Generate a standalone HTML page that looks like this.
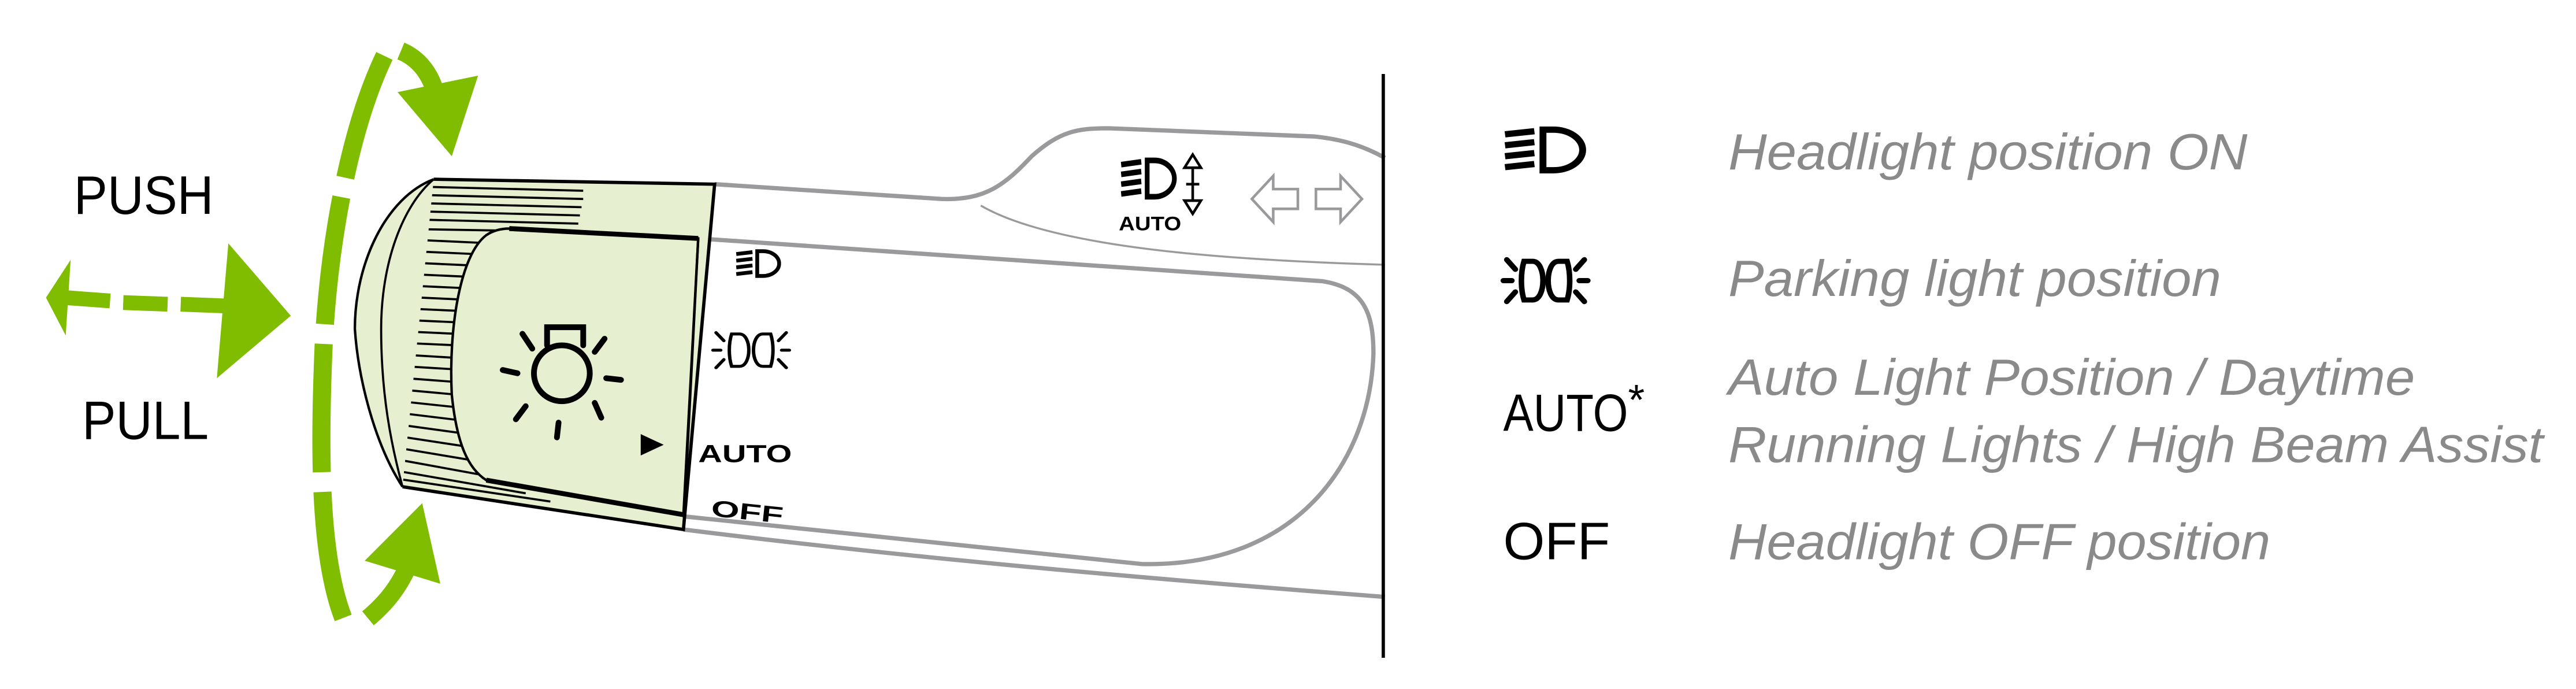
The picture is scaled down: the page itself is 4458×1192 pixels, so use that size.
<!DOCTYPE html>
<html><head><meta charset="utf-8"><style>
html,body{margin:0;padding:0;background:#fff;}
svg{display:block}
</style></head><body>
<svg width="4458" height="1192" viewBox="0 0 1568 419" preserveAspectRatio="none" xmlns="http://www.w3.org/2000/svg">
<defs>
<clipPath id="knob"><path d="M264,109 L435,112 L416,322 L245,296 C228,270 218,230 216,200 C216,160 235,120 264,109 Z"/></clipPath>
<g id="hl">
  <path d="M24,3 L30,3 A17,13 0 0 1 30,29 L24,29 Z" fill="none" stroke="#000" stroke-width="4"/>
  <path d="M2,6 L19,4 M2,13 L19,11 M2,20 L19,18 M2,27 L19,25" stroke="#000" stroke-width="4"/>
</g>
<g id="pk" fill="none" stroke="#000" stroke-width="3.2" stroke-linecap="round">
  <path d="M13,5 L18,5 C26,5 26,29 18,29 L13,29 C11,22 11,12 13,5 Z"/>
  <path d="M38,5 L33,5 C25,5 25,29 33,29 L38,29 C40,22 40,12 38,5 Z"/>
  <path d="M1,17 L6,17 M3,4 L8,10 M3,30 L8,24 M45,17 L50,17 M48,4 L43,10 M48,30 L43,24"/>
</g>
<g id="pk2" fill="none" stroke="#000" stroke-width="2.2" stroke-linecap="round">
  <path d="M13,5 L18,5 C26,5 26,29 18,29 L13,29 C11,22 11,12 13,5 Z"/>
  <path d="M38,5 L33,5 C25,5 25,29 33,29 L38,29 C40,22 40,12 38,5 Z"/>
  <path d="M1,17 L6,17 M3,4 L8,10 M3,30 L8,24 M45,17 L50,17 M48,4 L43,10 M48,30 L43,24"/>
</g>
</defs>

<!-- lever body outlines -->
<g fill="none" stroke="#9a9a9c" stroke-width="2.6">
  <path d="M435,112 L573,121 C600,122 612,112 628,95 C645,80 655,78 675,78 L800,83 C820,85 832,90 843,96"/>
  <path d="M425,145 L805,171 C830,175 836,190 836,215 C834,280 790,345 695,343 L416,314"/>
  <path d="M416,322 C560,340 700,352 843,363"/>
  <path d="M597,125 C640,150 740,158 843,161" stroke-width="1.2"/>
</g>
<line x1="842" y1="45" x2="842" y2="400" stroke="#000" stroke-width="2"/>

<!-- upper icons on lever -->
<g transform="translate(681,95) scale(0.72,0.85)"><use href="#hl"/></g>
<path d="M721,102 L726,94 L731,102 Z M721,122 L726,130 L731,122 Z M726,102 L726,122 M722,112 L730,112" fill="none" stroke="#000" stroke-width="1.6"/>
<text x="681" y="140" font-family="Liberation Sans, sans-serif" font-size="12" font-weight="bold" textLength="38" lengthAdjust="spacingAndGlyphs">AUTO</text>
<g fill="none" stroke="#9a9a9c" stroke-width="1.6">
  <path d="M762,121 L775,107 L775,115 L790,115 L790,127 L775,127 L775,135 Z"/>
  <path d="M829,121 L816,107 L816,115 L801,115 L801,127 L816,127 L816,135 Z"/>
</g>

<!-- knob -->
<path d="M264,109 L435,112 L416,322 L245,296 C228,270 218,230 216,200 C216,160 235,120 264,109 Z" fill="#e6f0d0"/>
<g clip-path="url(#knob)" stroke="#000" stroke-width="1.3">
  <path d="M234,113 L355,116 M234,118 L355,121 M234,123 L354,126 M234,128 L353,131 M234,133 L352,136 M234,139 L351,141"/>
  <path d="M234,145 L300,148 M234,152 L300,155 M234,159 L300,162 M234,166 L300,169 M234,173 L300,176 M234,180 L300,183 M234,187 L300,190 M234,194 L300,197 M234,201 L300,204 M234,208 L300,211 M234,215 L300,219 M234,222 L300,226 M234,229 L300,234 M234,236 L300,242 M234,243 L300,250 M234,250 L300,258 M234,257 L300,266 M234,264 L300,274 M234,271 L300,282 M234,278 L300,290 M234,285 L320,300 M234,290 L335,305"/>
</g>
<path d="M264,109 C235,120 216,160 216,200 C218,230 228,270 245,296" fill="#e6f0d0" stroke="#000" stroke-width="1.5"/>
<path d="M264,109 C245,125 232,160 232,200 C232,240 238,270 245,296" fill="none" stroke="#000" stroke-width="1.3"/>
<path d="M264,109 L435,112 L416,322 L245,296" fill="none" stroke="#000" stroke-width="2"/>
<path d="M310,139 L425,145 L416,313 L296,292 C285,285 278,270 275,240 C273,200 280,155 296,143 Q302,139 310,139 Z" fill="#e6f0d0" stroke="#000" stroke-width="1.5"/>
<path d="M310,139 L425,145 M416,313 L296,292" stroke="#000" stroke-width="3" fill="none"/>
<line x1="425" y1="145" x2="416" y2="322" stroke="#000" stroke-width="1.5"/>

<!-- sun icon -->
<g fill="none" stroke="#000" stroke-width="3.5" stroke-linecap="round">
  <circle cx="342" cy="227" r="17"/>
  <path d="M333,210 L333,199 L355,199 L355,210"/>
  <path d="M318,203 L324,212 M368,206 L362,214 M306,225 L315,227 M369,230 L378,231 M320,247 L314,255 M362,245 L366,254 M340,257 L339,266"/>
</g>
<g transform="translate(447,151) scale(0.58)"><use href="#hl"/></g>
<g transform="translate(433,199) scale(0.95,0.82)"><use href="#pk2"/></g>
<path d="M390,264 L404,270.5 L390,277 Z" fill="#000"/>
<text x="425" y="281" font-family="Liberation Sans, sans-serif" font-size="15" font-weight="bold" textLength="57" lengthAdjust="spacingAndGlyphs">AUTO</text>
<text x="433" y="316" font-family="Liberation Sans, sans-serif" font-size="14" font-weight="bold" transform="rotate(6 455 310)" textLength="44" lengthAdjust="spacingAndGlyphs">OFF</text>

<!-- green arrows -->
<g fill="#80bc00" stroke="none">
  <path d="M139,148 L177,192 L132,230 Z"/>
  <path d="M28,181 L43,158 L40,204 Z"/>
  <path d="M242,56 L291,46 L275,95 Z"/>
  <path d="M222,341 L257,306 L268,355 Z"/>
</g>
<g stroke="#80bc00" fill="none" stroke-width="9">
  <path d="M40,181 L67,183 M75,184 L102,185 M110,185 L136,186"/>
</g>
<g stroke="#80bc00" fill="none" stroke-width="11">
  <path d="M234,34 C212,80 200,150 197,210 C194,280 195,340 209,376" stroke-dasharray="78,12"/>
  <path d="M244,31 C256,36 262,46 265,56"/>
  <path d="M224,376 C236,366 243,356 248,345"/>
</g>

<g font-family="Liberation Sans, sans-serif">
<text x="45" y="130" font-size="33" textLength="85" lengthAdjust="spacingAndGlyphs">PUSH</text>
<text x="50" y="267" font-size="33" textLength="77" lengthAdjust="spacingAndGlyphs">PULL</text>
<text x="915" y="262" font-size="32" textLength="76" lengthAdjust="spacingAndGlyphs">AUTO</text>
<text x="991" y="252" font-size="26">*</text>
<text x="915" y="340" font-size="32" textLength="65" lengthAdjust="spacingAndGlyphs">OFF</text>
<g fill="#8a8a8a" font-style="italic" font-size="31">
<text x="1052" y="103" textLength="316" lengthAdjust="spacingAndGlyphs">Headlight position ON</text>
<text x="1052" y="180" textLength="300" lengthAdjust="spacingAndGlyphs">Parking light position</text>
<text x="1052" y="240" textLength="418" lengthAdjust="spacingAndGlyphs">Auto Light Position / Daytime</text>
<text x="1052" y="281" textLength="496" lengthAdjust="spacingAndGlyphs">Running Lights / High Beam Assist</text>
<text x="1052" y="340" textLength="330" lengthAdjust="spacingAndGlyphs">Headlight OFF position</text>
</g>
</g>
<g transform="translate(914,76) scale(1.05,0.95)"><use href="#hl"/></g>
<g transform="translate(914,154) scale(1.05,0.98)"><use href="#pk"/></g>
</svg>
</body></html>
